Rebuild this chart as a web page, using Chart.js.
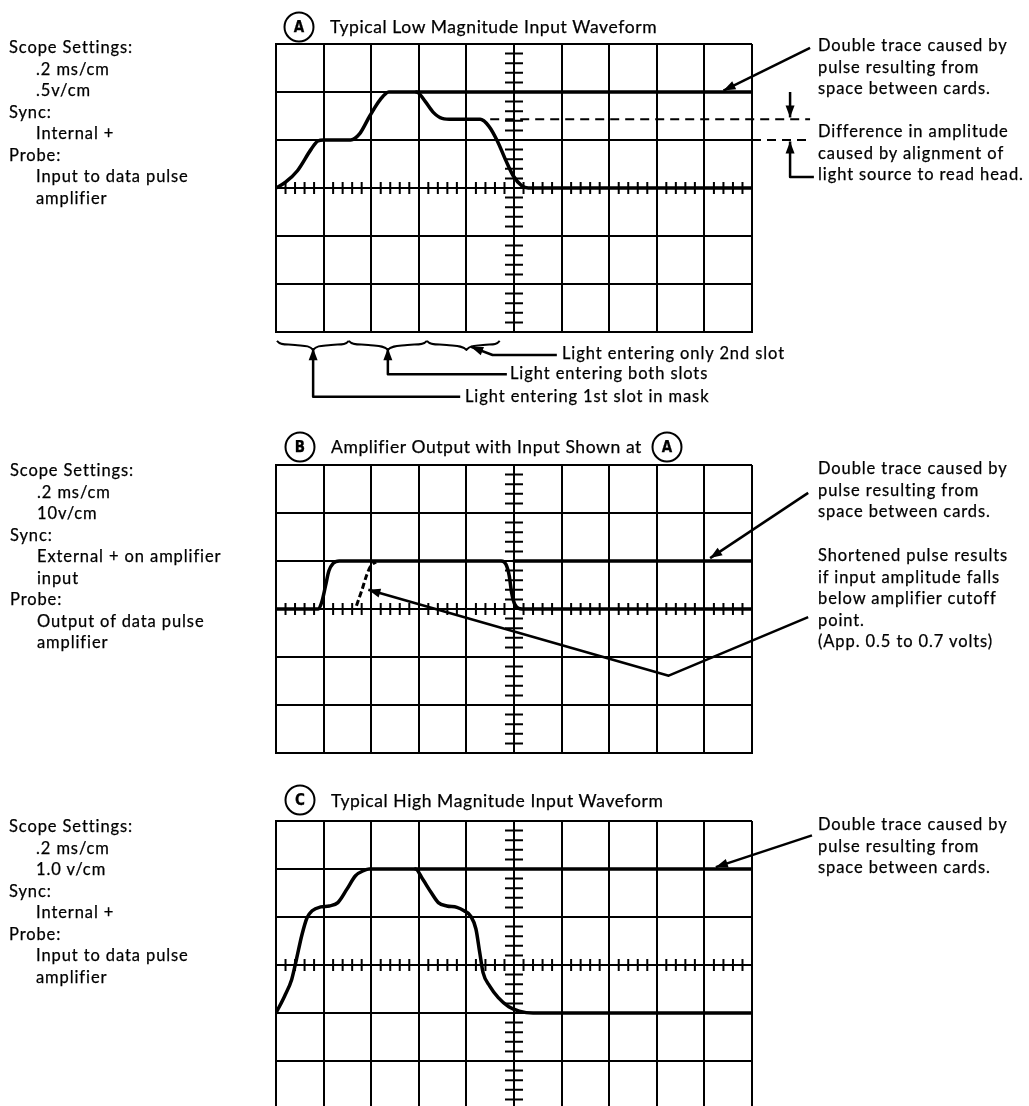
<!DOCTYPE html>
<html lang="en">
<head>
<meta charset="UTF-8">
<title>Data Pulse Amplifier Waveforms</title>
<script src="https://cdn.jsdelivr.net/npm/chart.js"></script>
<style>
  html, body { margin: 0; padding: 0; background: #fff; }
  body { width: 1029px; height: 1106px; overflow: hidden; position: relative;
         font-family: Lato, "DejaVu Sans", sans-serif; font-size: 16.5px; letter-spacing: 0.9px;
         -webkit-text-stroke: 0.25px #000; color: #000; }
  canvas { position: absolute; left: 0; }
  .txt { position: absolute; line-height: 21.5px; white-space: nowrap; }
  .ind { padding-left: 27px; }
  .title { position: absolute; font-size: 17.5px; letter-spacing: 0.6px; white-space: nowrap; transform: translateY(-50%); }
  .circ { position: absolute; width: 27px; height: 27px; border: 2px solid #000; border-radius: 50%;
          font: bold 15px "DejaVu Sans Condensed", "DejaVu Sans", sans-serif; letter-spacing: 0;
          text-align: center; line-height: 27px; transform: translate(-50%, -50%); }
</style>
</head>
<body>

<canvas id="scopeA" width="1029" height="420" style="top:0px"></canvas>
<canvas id="scopeB" width="1029" height="345" style="top:420px"></canvas>
<canvas id="scopeC" width="1029" height="350" style="top:765px"></canvas>

<!-- titles -->
<div class="circ" style="left:299px;top:27px">A</div>
<div class="title" style="left:330px;top:26px">Typical Low Magnitude Input Waveform</div>
<div class="circ" style="left:300px;top:447px">B</div>
<div class="title" style="left:331px;top:446px">Amplifier Output with Input Shown at</div>
<div class="circ" style="left:667px;top:447px">A</div>
<div class="circ" style="left:300px;top:800px">C</div>
<div class="title" style="left:331px;top:800px">Typical High Magnitude Input Waveform</div>

<!-- scope settings -->
<div class="txt" style="left:9px;top:37px">
  <div>Scope Settings:</div><div class="ind">.2 ms/cm</div><div class="ind">.5v/cm</div>
  <div>Sync:</div><div class="ind">Internal +</div>
  <div>Probe:</div><div class="ind">Input to data pulse</div><div class="ind">amplifier</div>
</div>
<div class="txt" style="left:10px;top:460px">
  <div>Scope Settings:</div><div class="ind">.2 ms/cm</div><div class="ind">10v/cm</div>
  <div>Sync:</div><div class="ind">External + on amplifier</div><div class="ind">input</div>
  <div>Probe:</div><div class="ind">Output of data pulse</div><div class="ind">amplifier</div>
</div>
<div class="txt" style="left:9px;top:816px">
  <div>Scope Settings:</div><div class="ind">.2 ms/cm</div><div class="ind">1.0 v/cm</div>
  <div>Sync:</div><div class="ind">Internal +</div>
  <div>Probe:</div><div class="ind">Input to data pulse</div><div class="ind">amplifier</div>
</div>

<!-- notes on the right -->
<div class="txt" style="left:818px;top:35px">Double trace caused by<br>pulse resulting from<br>space between cards.</div>
<div class="txt" style="left:818px;top:121px">Difference in amplitude<br>caused by alignment of<br>light source to read head.</div>
<div class="txt" style="left:818px;top:458px">Double trace caused by<br>pulse resulting from<br>space between cards.</div>
<div class="txt" style="left:818px;top:545px">Shortened pulse results<br>if input amplitude falls<br>below amplifier cutoff<br>point.<br>(App. 0.5 to 0.7 volts)</div>
<div class="txt" style="left:818px;top:814px">Double trace caused by<br>pulse resulting from<br>space between cards.</div>

<!-- slot notes under A -->
<div class="txt" style="left:562px;top:343px">Light entering only 2nd slot</div>
<div class="txt" style="left:510px;top:363px">Light entering both slots</div>
<div class="txt" style="left:465px;top:386px">Light entering 1st slot in mask</div>

<script>
// divisions: x 0..10 cm, y -3..3 cm
const aTraceX = [0, 0.2, 0.45, 0.74, 0.88, 1.0, 1.57, 1.75, 1.97, 2.19, 2.37, 2.95, 3.13, 3.31, 3.49, 3.71, 4.29, 4.47, 4.65, 4.83, 4.98, 5.16, 5.3, 10];
const aTraceY = [0, 0.12, 0.36, 0.81, 0.98, 1.0, 1.0, 1.12, 1.5, 1.84, 2.0, 2.0, 1.81, 1.57, 1.45, 1.43, 1.43, 1.29, 0.98, 0.57, 0.26, 0.05, 0, 0];
const aDoubleX = [2.95, 10];
const aDoubleY = [2, 2];
const aDiffHighX = [4.5, 11.22];
const aDiffHighY = [1.43, 1.43];
const aDiffLowX = [10, 11.22];
const aDiffLowY = [1.0, 1.0];

const bTraceX = [0, 0.89, 0.96, 1.04, 1.11, 1.2, 1.33, 4.73, 4.83, 4.9, 4.95, 5.02, 5.17, 10];
const bTraceY = [0, 0, 0.14, 0.48, 0.79, 0.95, 1.0, 1.0, 0.93, 0.69, 0.34, 0.09, 0, 0];
const bShortX = [1.69, 1.8, 1.91, 2.0, 2.1];
const bShortY = [0.07, 0.38, 0.72, 0.91, 0.98];
const bDoubleX = [5, 10];
const bDoubleY = [1, 1];

const cTraceX = [0, 0.18, 0.33, 0.43, 0.54, 0.65, 0.76, 0.94, 1.12, 1.3, 1.49, 1.67, 1.85, 1.96, 2.93, 3.08, 3.26, 3.41, 3.59, 3.8, 3.95, 4.09, 4.2, 4.28, 4.35, 4.49, 4.67, 4.89, 5.11, 5.4, 10];
const cTraceY = [-1, -0.65, -0.3, 0.12, 0.61, 0.98, 1.13, 1.21, 1.23, 1.3, 1.58, 1.86, 1.97, 2, 2, 1.79, 1.51, 1.3, 1.23, 1.2, 1.13, 1.02, 0.75, 0.26, -0.16, -0.44, -0.68, -0.87, -0.96, -1, -1];
const cDoubleX = [2.93, 10];
const cDoubleY = [2, 2];

// callout lines, in divisions (last point gets the arrow head)
const aArrows = [
  { pts: [[11.22, 2.92], [9.4, 2.03]], head: true },
  { pts: [[10.8, 2.0], [10.8, 1.47]], head: true },
  { pts: [[11.3, 0.23], [10.8, 0.23], [10.8, 0.97]], head: true },
  { pts: [[5.9, -3.48], [4.55, -3.48], [4.1, -3.31]], head: true },
  { pts: [[4.85, -3.88], [2.35, -3.88], [2.35, -3.34]], head: true },
  { pts: [[3.87, -4.35], [0.78, -4.35], [0.78, -3.34]], head: true }
];
const aBraces = [[0.02, 0.78, 1.53], [1.53, 2.35, 3.17], [3.17, 4.0, 4.7]];
const bArrows = [
  { pts: [[11.18, 2.42], [9.12, 1.06]], head: true },
  { pts: [[11.18, -0.17], [8.25, -1.39], [1.94, 0.40]], head: true }
];
const cArrows = [
  { pts: [[11.26, 2.7], [9.24, 2.04]], head: true }
];

const pts = (xs, ys) => xs.map((x, i) => ({ x: x, y: ys[i] }));

function arrowHead(ctx, fx, fy, tx, ty) {
  const a = Math.atan2(ty - fy, tx - fx);
  const L = 12, W = 4.5;
  ctx.beginPath();
  ctx.moveTo(tx, ty);
  ctx.lineTo(tx - L * Math.cos(a) + W * Math.sin(a), ty - L * Math.sin(a) - W * Math.cos(a));
  ctx.lineTo(tx - L * Math.cos(a) - W * Math.sin(a), ty - L * Math.sin(a) + W * Math.cos(a));
  ctx.closePath();
  ctx.fill();
}

const scopeMarks = {
  id: 'scopeMarks',
  beforeDatasetsDraw(chart) {
    const { ctx, scales: { x, y } } = chart;
    const y0 = y.getPixelForValue(0), x0 = x.getPixelForValue(5);
    ctx.save();
    ctx.strokeStyle = '#000';
    ctx.lineWidth = 2;
    ctx.beginPath();
    for (let i = 1; i < 50; i++) {
      if (i % 5 === 0) continue;
      const px = x.getPixelForValue(i / 5);
      ctx.moveTo(px, y0 - 6); ctx.lineTo(px, y0 + 6);
    }
    for (let j = -14; j <= 14; j++) {
      if (j % 5 === 0) continue;
      const py = y.getPixelForValue(j / 5);
      ctx.moveTo(x0 - 9, py); ctx.lineTo(x0 + 9, py);
    }
    ctx.stroke();
    ctx.restore();
  },
  afterDraw(chart, args, opts) {
    const { ctx, scales: { x, y } } = chart;
    ctx.save();
    ctx.strokeStyle = '#000';
    ctx.fillStyle = '#000';
    ctx.lineWidth = 2.5;
    ctx.lineJoin = 'round';
    (opts.arrows || []).forEach(ar => {
      const p = ar.pts.map(q => [x.getPixelForValue(q[0]), y.getPixelForValue(q[1])]);
      ctx.beginPath();
      ctx.moveTo(p[0][0], p[0][1]);
      for (let i = 1; i < p.length; i++) ctx.lineTo(p[i][0], p[i][1]);
      ctx.stroke();
      if (ar.head) {
        const n = p.length;
        arrowHead(ctx, p[n - 2][0], p[n - 2][1], p[n - 1][0], p[n - 1][1]);
      }
    });
    (opts.braces || []).forEach(b => {
      const x1 = x.getPixelForValue(b[0]), xc = x.getPixelForValue(b[1]), x2 = x.getPixelForValue(b[2]);
      const yb = y.getPixelForValue(-3.27);
      ctx.lineWidth = 2;
      ctx.beginPath();
      ctx.moveTo(x1, yb - 4);
      ctx.bezierCurveTo(x1 + 4, yb + 1, (x1 + xc) / 2 - 8, yb - 1, (x1 + xc) / 2, yb);
      ctx.bezierCurveTo((x1 + xc) / 2 + 8, yb + 1, xc - 4, yb, xc, yb + 5);
      ctx.bezierCurveTo(xc + 4, yb, (xc + x2) / 2 - 8, yb + 1, (xc + x2) / 2, yb);
      ctx.bezierCurveTo((xc + x2) / 2 + 8, yb - 1, x2 - 4, yb + 1, x2, yb - 4);
      ctx.stroke();
    });
    ctx.restore();
  }
};

function makeScope(id, padTop, padBottom, datasets, marks) {
  new Chart(document.getElementById(id), {
    type: 'scatter',
    data: { datasets: datasets },
    options: {
      responsive: false,
      animation: false,
      events: [],
      layout: { padding: { left: 276, right: 277, top: padTop, bottom: padBottom } },
      plugins: { legend: { display: false }, tooltip: { enabled: false }, scopeMarks: marks },
      scales: {
        x: {
          type: 'linear', min: 0, max: 10,
          ticks: { stepSize: 1, display: false },
          grid: { color: '#000', lineWidth: 2, drawTicks: false },
          border: { color: '#000', width: 2 }
        },
        y: {
          type: 'linear', min: -3, max: 3,
          ticks: { stepSize: 1, display: false },
          grid: { color: '#000', lineWidth: 2, drawTicks: false },
          border: { color: '#000', width: 2 }
        }
      }
    },
    plugins: [scopeMarks]
  });
}

const trace = (data) => ({
  data: data, showLine: true, pointRadius: 0, borderColor: '#000', borderWidth: 3.5,
  cubicInterpolationMode: 'monotone', borderJoinStyle: 'round', borderCapStyle: 'round'
});
const dashed = (data, w, dash) => ({
  data: data, showLine: true, pointRadius: 0, borderColor: '#000', borderWidth: w,
  borderDash: dash, clip: false, cubicInterpolationMode: 'monotone'
});

makeScope('scopeA', 44, 88, [
  trace(pts(aTraceX, aTraceY)),
  trace(pts(aDoubleX, aDoubleY)),
  dashed(pts(aDiffHighX, aDiffHighY), 2, [9, 6]),
  dashed(pts(aDiffLowX, aDiffLowY), 2, [9, 6])
], { arrows: aArrows, braces: aBraces });

makeScope('scopeB', 45, 12, [
  trace(pts(bTraceX, bTraceY)),
  trace(pts(bDoubleX, bDoubleY)),
  dashed(pts(bShortX, bShortY), 3, [6, 3])
], { arrows: bArrows });

makeScope('scopeC', 56, 6, [
  trace(pts(cTraceX, cTraceY)),
  trace(pts(cDoubleX, cDoubleY))
], { arrows: cArrows });
</script>
</body>
</html>
